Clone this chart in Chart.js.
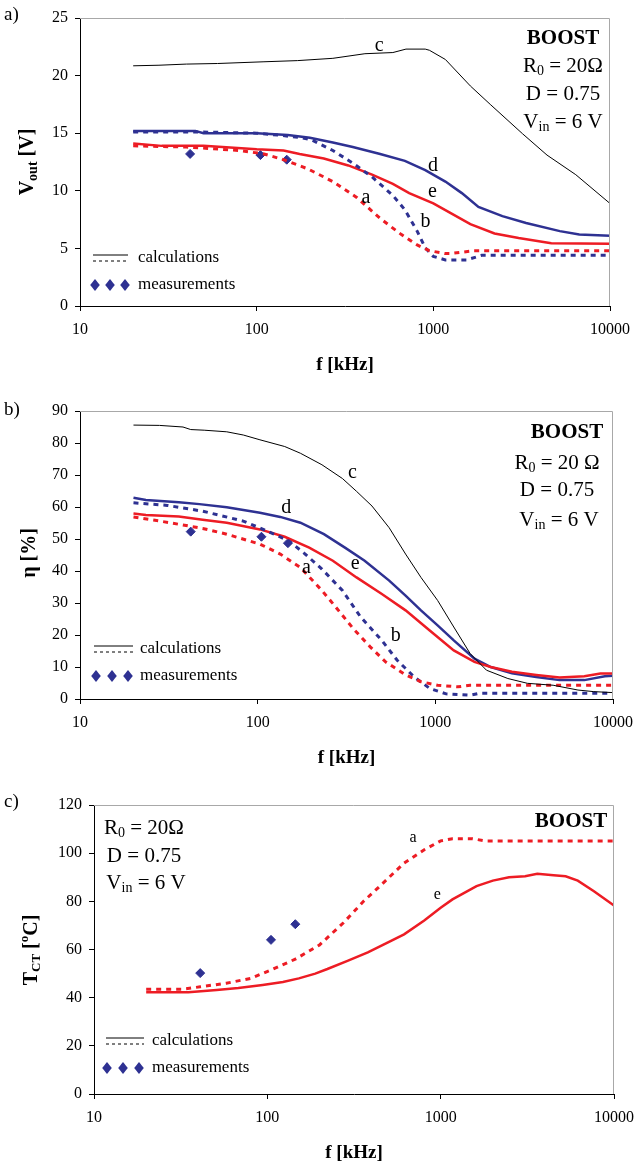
<!DOCTYPE html>
<html>
<head>
<meta charset="utf-8">
<script src="https://cdn.jsdelivr.net/npm/chart.js@4.4.1/dist/chart.umd.min.js"></script>
<style>
  body { margin: 0; background: #fff; }
  #wrap { position: relative; width: 634px; height: 1167px; }
  canvas { position: absolute; left: 0; }
</style>
</head>
<body>
<div id="wrap">
  <canvas id="chartA" width="634" height="390" style="top:0px"></canvas>
  <canvas id="chartB" width="634" height="390" style="top:390px"></canvas>
  <canvas id="chartC" width="634" height="387" style="top:780px"></canvas>
</div>
<script>
// ---- shared axis values ----
const xTicks = [10, 100, 1000, 10000];

// ---- panel a) output voltage ----
const aFreqC = [20, 28, 40, 60, 110, 170, 270, 410, 590, 700, 900, 950, 1170, 1620, 2100, 3200, 4400, 6400, 10000];
const aVoutC = [20.85, 20.9, 21.0, 21.05, 21.2, 21.3, 21.5, 21.9, 22.0, 22.3, 22.3, 22.2, 21.4, 19.1, 17.5, 14.95, 13.1, 11.4, 8.9];
const aFreqD = [20, 45, 50, 100, 150, 200, 270, 350, 500, 690, 900, 1170, 1450, 1800, 2460, 3350, 5200, 6700, 10000];
const aVoutD = [15.2, 15.2, 15.0, 15.0, 14.85, 14.6, 14.2, 13.8, 13.2, 12.6, 11.8, 10.8, 9.8, 8.6, 7.8, 7.2, 6.5, 6.2, 6.1];
const aFreqE = [20, 29, 50, 100, 142, 175, 240, 330, 450, 590, 730, 1000, 1240, 1620, 2220, 3040, 4650, 10000];
const aVoutE = [14.1, 13.9, 13.9, 13.6, 13.5, 13.2, 12.8, 12.2, 11.4, 10.6, 9.8, 8.9, 8.1, 7.1, 6.3, 5.9, 5.45, 5.4];
const aFreqA = [20, 40, 80, 110, 142, 195, 270, 370, 500, 660, 810, 950, 1170, 1250, 1700, 10000];
const aVoutA = [13.9, 13.8, 13.5, 13.2, 12.7, 11.9, 10.8, 9.4, 7.6, 6.2, 5.3, 4.8, 4.55, 4.55, 4.8, 4.8];
const aFreqB = [20, 50, 100, 140, 180, 206, 270, 350, 450, 590, 690, 810, 900, 1000, 1170, 1540, 1880, 10000];
const aVoutB = [15.1, 15.1, 15.0, 14.8, 14.6, 14.4, 13.5, 12.4, 11.2, 9.6, 8.35, 6.5, 5.05, 4.3, 4.0, 4.0, 4.4, 4.4];
const aMeasFreq = [42, 105, 148];
const aMeasVout = [13.2, 13.1, 12.7];

// ---- panel b) efficiency ----
const bFreqC = [20, 28, 38, 42, 50, 67, 83, 103, 142, 174, 230, 300, 360, 440, 550, 680, 830, 1030, 1270, 1570, 1940, 2560, 3300, 4600, 6350, 7800, 10000];
const bEffC = [85.6, 85.5, 85.0, 84.2, 84.0, 83.5, 82.5, 81.0, 78.9, 76.8, 73.2, 68.9, 64.9, 60.3, 53.5, 45.3, 38.0, 30.8, 22.5, 14.2, 9.0, 6.4, 4.9, 4.3, 2.8, 2.3, 2.0];
const bFreqD = [20, 23.5, 36, 47, 67, 103, 134, 174, 236, 310, 400, 550, 680, 830, 1030, 1270, 1660, 2050, 2700, 3700, 5000, 6900, 9000, 10000];
const bEffD = [62.9, 62.2, 61.5, 60.9, 59.9, 58.2, 56.9, 55.1, 51.5, 47.3, 43.2, 37.0, 32.3, 27.7, 23.0, 18.3, 12.6, 10.0, 8.0, 6.9, 5.9, 5.9, 7.1, 7.3];
const bFreqE = [20, 23.5, 36, 49, 67, 103, 142, 195, 265, 360, 500, 680, 930, 1270, 1660, 2050, 2700, 3700, 5000, 6900, 8500, 10000];
const bEffE = [58.0, 57.5, 57.0, 56.0, 55.1, 53.0, 50.7, 47.3, 43.2, 38.0, 32.8, 27.7, 21.4, 15.2, 11.6, 10.0, 8.5, 7.5, 6.7, 7.1, 8.0, 8.0];
const bFreqA = [20, 32, 49, 67, 103, 134, 174, 230, 280, 345, 430, 525, 680, 830, 1030, 1340, 1570, 10000];
const bEffA = [56.9, 55.1, 53.3, 51.5, 48.4, 45.3, 41.1, 33.9, 28.2, 22.0, 16.3, 11.6, 7.5, 5.4, 4.3, 3.8, 4.3, 4.3];
const bFreqB = [20, 31, 49, 83, 113, 150, 185, 230, 300, 380, 500, 610, 760, 930, 1150, 1570, 1770, 10000];
const bEffB = [61.3, 60.5, 58.7, 55.6, 52.5, 49.4, 45.3, 40.6, 33.9, 25.6, 18.3, 12.1, 6.9, 3.3, 1.6, 1.2, 1.8, 1.8];
const bMeasFreq = [42, 105, 148];
const bMeasEff = [52.3, 50.7, 48.7];

// ---- panel c) transistor temperature ----
const cFreqE = [20, 35, 51, 68, 94, 123, 152, 189, 222, 290, 380, 497, 615, 804, 1000, 1170, 1610, 2000, 2480, 3070, 3610, 4480, 5260, 6180, 7660, 10000];
const cTempE = [42.3, 42.3, 43.2, 44, 45.3, 46.5, 48, 50, 51.9, 55.3, 58.8, 63, 66.3, 72, 77.3, 80.8, 86.3, 88.6, 90, 90.4, 91.4, 90.8, 90.4, 88.6, 84.2, 78.3];
const cFreqA = [20, 32, 41, 58, 80, 105, 145, 200, 275, 360, 446, 615, 804, 1000, 1170, 1530, 1800, 10000];
const cTempA = [43.5, 43.5, 44.5, 46, 48, 51.5, 56, 61.9, 71.1, 80.1, 86.3, 95.9, 101.4, 105.1, 106, 106, 105.1, 105.1];
const cMeasFreq = [41, 105, 145];
const cMeasTemp = [50.2, 64, 70.5];

const BLUE = '#2e3192';
const RED = '#ed1c24';
const SERIF = '"Liberation Serif", "DejaVu Serif", serif';

function pts(xs, ys) {
  return xs.map((x, i) => ({ x: x, y: ys[i] }));
}
function solid(xs, ys, color, w) {
  return { data: pts(xs, ys), borderColor: color, borderWidth: w, pointRadius: 0, fill: false, tension: 0 };
}
function dotted(xs, ys, color) {
  return { data: pts(xs, ys), borderColor: color, borderWidth: 3, borderDash: [5, 5], pointRadius: 0, fill: false, tension: 0 };
}
function meas(xs, ys) {
  return { data: pts(xs, ys), showLine: false, pointStyle: 'rectRot', pointRadius: 4.5,
    pointBackgroundColor: BLUE, pointBorderColor: BLUE, borderColor: BLUE };
}

// text with sub/superscripts: parts = [[text, size, bold, dy]]
function rich(ctx, parts, x, y, align) {
  let total = 0;
  parts.forEach(p => {
    ctx.font = (p[2] ? 'bold ' : '') + p[1] + 'px ' + SERIF;
    total += ctx.measureText(p[0]).width;
  });
  let cx = align === 'center' ? x - total / 2 : (align === 'right' ? x - total : x);
  ctx.textAlign = 'left';
  ctx.textBaseline = 'middle';
  parts.forEach(p => {
    ctx.font = (p[2] ? 'bold ' : '') + p[1] + 'px ' + SERIF;
    ctx.fillText(p[0], cx, y + (p[3] || 0));
    cx += ctx.measureText(p[0]).width;
  });
}

const decor = {
  id: 'decor',
  afterDraw(chart, args, o) {
    const ctx = chart.ctx;
    const a = chart.chartArea;
    const xs = chart.scales.x, ys = chart.scales.y;
    ctx.save();
    // light frame on top and right
    ctx.strokeStyle = '#a8a8a8';
    ctx.lineWidth = 1;
    ctx.beginPath();
    ctx.moveTo(a.left, a.top + 0.5);
    ctx.lineTo(a.right - 0.5, a.top + 0.5);
    ctx.lineTo(a.right - 0.5, a.bottom);
    ctx.stroke();

    ctx.fillStyle = '#000';
    // curve letters
    o.curveLabels.forEach(l => {
      ctx.font = l.size + 'px ' + SERIF;
      ctx.textAlign = 'center';
      ctx.textBaseline = 'middle';
      ctx.fillText(l.t, xs.getPixelForValue(l.f), ys.getPixelForValue(l.v));
    });

    // info block
    const ib = o.info;
    rich(ctx, [['BOOST', 21, true]], ib.boost[0], ib.boost[1], 'center');
    rich(ctx, [['R', 21], ['0', 14, false, 5], [ib.ohm, 21]], ib.r[0], ib.r[1], 'center');
    rich(ctx, [['D = 0.75', 21]], ib.d[0], ib.d[1], 'center');
    rich(ctx, [['V', 21], ['in', 14, false, 5], [' = 6 V', 21]], ib.v[0], ib.v[1], 'center');

    // legend
    const lg = o.legend;
    ctx.strokeStyle = '#000';
    ctx.lineWidth = 1;
    ctx.beginPath();
    ctx.moveTo(lg.x0, lg.y1); ctx.lineTo(lg.x1, lg.y1);
    ctx.stroke();
    ctx.setLineDash([3, 3]);
    ctx.beginPath();
    ctx.moveTo(lg.x0, lg.y1 + 6); ctx.lineTo(lg.x1, lg.y1 + 6);
    ctx.stroke();
    ctx.setLineDash([]);
    rich(ctx, [['calculations', 17]], lg.tx, lg.y1 + 3, 'left');
    ctx.fillStyle = BLUE;
    lg.dx.forEach(dx => {
      const r = 6;
      ctx.beginPath();
      ctx.moveTo(dx, lg.y2 - r); ctx.lineTo(dx + r * 0.8, lg.y2);
      ctx.lineTo(dx, lg.y2 + r); ctx.lineTo(dx - r * 0.8, lg.y2);
      ctx.closePath(); ctx.fill();
    });
    ctx.fillStyle = '#000';
    rich(ctx, [['measurements', 17]], lg.tx, lg.y2, 'left');

    // y title (rotated)
    ctx.save();
    ctx.translate(o.yTitle.x, o.yTitle.y);
    ctx.rotate(-Math.PI / 2);
    rich(ctx, o.yTitle.parts, 0, 0, 'center');
    ctx.restore();

    // panel letter
    rich(ctx, [[o.letter[0], 19]], o.letter[1], o.letter[2], 'left');
    ctx.restore();
  }
};

function makeChart(id, datasets, yMax, yStep, yWidth, pad, decorOpts) {
  return new Chart(document.getElementById(id), {
    type: 'line',
    data: { datasets: datasets },
    plugins: [decor],
    options: {
      responsive: false,
      animation: false,
      layout: { padding: pad },
      plugins: { legend: { display: false }, tooltip: { enabled: false }, decor: decorOpts },
      scales: {
        x: {
          type: 'logarithmic', min: 10, max: 10000, position: 'bottom',
          afterBuildTicks: s => { s.ticks = xTicks.map(v => ({ value: v })); },
          afterFit: s => { s.height = 70; s.paddingLeft = 0; s.paddingRight = 0; },
          ticks: { callback: v => String(v), color: '#000', font: { family: SERIF, size: 16 }, autoSkip: false, maxRotation: 0, padding: 9 },
          grid: { drawOnChartArea: false, tickLength: 5, color: '#000' },
          border: { color: '#000' },
          title: { display: true, text: 'f [kHz]', color: '#000', font: { family: SERIF, size: 19, weight: 'bold' }, padding: 0 }
        },
        y: {
          min: 0, max: yMax,
          afterFit: s => { s.width = yWidth; s.paddingTop = 0; s.paddingBottom = 0; },
          ticks: { stepSize: yStep, color: '#000', font: { family: SERIF, size: 16 }, padding: 7 },
          grid: { drawOnChartArea: false, tickLength: 5, color: '#000' },
          border: { color: '#000' }
        }
      }
    }
  });
}

makeChart('chartA', [
  solid(aFreqC, aVoutC, '#000', 1),
  dotted(aFreqA, aVoutA, RED),
  dotted(aFreqB, aVoutB, BLUE),
  solid(aFreqE, aVoutE, RED, 2.5),
  solid(aFreqD, aVoutD, BLUE, 2.5),
  meas(aMeasFreq, aMeasVout)
], 25, 5, 80, { top: 18, right: 24, bottom: 14, left: 0 }, {
  curveLabels: [
    { t: 'c', f: 493, v: 22.6, size: 20 }, { t: 'd', f: 995, v: 12.2, size: 20 },
    { t: 'e', f: 990, v: 9.9, size: 20 }, { t: 'a', f: 416, v: 9.36, size: 20 },
    { t: 'b', f: 904, v: 7.35, size: 20 }
  ],
  info: { ohm: ' = 20Ω', boost: [563, 39], r: [563, 66], d: [563, 94], v: [563, 122] },
  legend: { x0: 93, x1: 128, y1: 255, tx: 138, y2: 285, dx: [95, 110, 125] },
  yTitle: { x: 28, y: 162, parts: [['V', 20, true], ['out', 14, true, 5], [' [V]', 20, true]] },
  letter: ['a)', 4, 15]
});

makeChart('chartB', [
  solid(bFreqC, bEffC, '#000', 1),
  dotted(bFreqA, bEffA, RED),
  dotted(bFreqB, bEffB, BLUE),
  solid(bFreqE, bEffE, RED, 2.5),
  solid(bFreqD, bEffD, BLUE, 2.5),
  meas(bMeasFreq, bMeasEff)
], 90, 10, 80, { top: 21, right: 21, bottom: 11, left: 0 }, {
  curveLabels: [
    { t: 'c', f: 341, v: 70.6, size: 20 }, { t: 'd', f: 145, v: 59.8, size: 20 },
    { t: 'e', f: 354, v: 42.2, size: 20 }, { t: 'a', f: 188, v: 41.1, size: 20 },
    { t: 'b', f: 599, v: 19.9, size: 20 }
  ],
  info: { ohm: ' = 20 Ω', boost: [567, 43], r: [557, 73], d: [557, 100], v: [559, 130] },
  legend: { x0: 94, x1: 133, y1: 256, tx: 140, y2: 286, dx: [96, 112, 128] },
  yTitle: { x: 30, y: 163, parts: [['η [%]', 20, true]] },
  letter: ['b)', 4, 20]
});

makeChart('chartC', [
  dotted(cFreqA, cTempA, RED),
  solid(cFreqE, cTempE, RED, 2.5),
  meas(cMeasFreq, cMeasTemp)
], 120, 20, 94, { top: 25, right: 20, bottom: 3, left: 0 }, {
  curveLabels: [
    { t: 'a', f: 692, v: 106.5, size: 16 }, { t: 'e', f: 955, v: 82.8, size: 16 }
  ],
  info: { ohm: ' = 20Ω', boost: [571, 42], r: [144, 48], d: [144, 76], v: [146, 103] },
  legend: { x0: 106, x1: 144, y1: 258, tx: 152, y2: 288, dx: [107, 123, 139] },
  yTitle: { x: 32, y: 170, parts: [['T', 20, true], ['CT', 13, true, 5], [' [', 20, true], ['o', 13, true, -7], ['C]', 20, true]] },
  letter: ['c)', 4, 22]
});
</script>
</body>
</html>
